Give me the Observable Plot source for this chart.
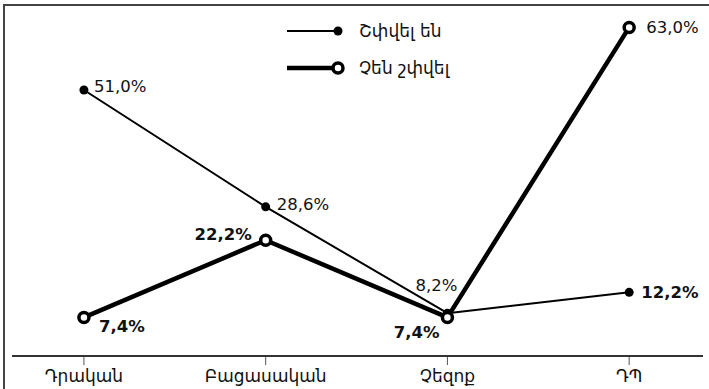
<!DOCTYPE html>
<html>
<head>
<meta charset="utf-8">
<script src="https://cdn.jsdelivr.net/npm/d3@7"></script>
<script src="https://cdn.jsdelivr.net/npm/@observablehq/plot@0.6"></script>
<style>
  html, body { margin: 0; padding: 0; background: white; }
  #wrap { position: relative; width: 709px; height: 389px; }
  #legend { position: absolute; left: 0; top: 0; pointer-events: none; }
</style>
</head>
<body>
<div id="wrap"></div>
<script>
// ---- data ----
const categories = ["Դրական", "Բացասական", "Չեզոք", "ԴՊ"];
const seriesNames = ["Շփվել են", "Չեն շփվել"];
const contacted = [51.0, 28.6, 8.2, 12.2];      // Շփվել են
const notContacted = [7.4, 22.2, 7.4, 63.0];    // Չեն շփվել
const contactedBold = [false, false, false, true];
const notContactedBold = [true, true, true, false];

// ---- label placement (styling) ----
const contactedPlace = [
  {anchor: "start", dx: 10, dy: -3},
  {anchor: "start", dx: 11, dy: -2},
  {anchor: "middle", dx: -11, dy: -28},
  {anchor: "start", dx: 12, dy: 0}
];
const notContactedPlace = [
  {anchor: "start", dx: 15, dy: 9},
  {anchor: "end", dx: -14, dy: -5},
  {anchor: "end", dx: -8, dy: 15},
  {anchor: "start", dx: 17, dy: 0}
];

const fmt = v => v.toFixed(1).replace(".", ",") + "%";
const rowsA = contacted.map((v, i) => ({i, v, s: seriesNames[0]}));
const rowsB = notContacted.map((v, i) => ({i, v, s: seriesNames[1]}));

const labelMarks = [];
rowsA.forEach((r, k) => {
  const p = contactedPlace[k];
  labelMarks.push(Plot.text([r], {x: "i", y: "v", text: d => fmt(d.v), textAnchor: p.anchor,
    dx: p.dx, dy: p.dy, fontSize: 16.5, fontWeight: contactedBold[k] ? "bold" : "normal", fill: "#111"}));
});
rowsB.forEach((r, k) => {
  const p = notContactedPlace[k];
  labelMarks.push(Plot.text([r], {x: "i", y: "v", text: d => fmt(d.v), textAnchor: p.anchor,
    dx: p.dx, dy: p.dy, fontSize: 16.5, fontWeight: notContactedBold[k] ? "bold" : "normal", fill: "#111"}));
});

const chart = Plot.plot({
  width: 709,
  height: 389,
  marginTop: 5,
  marginLeft: 4,
  marginRight: 0,
  marginBottom: 34,
  style: {
    fontFamily: "'DejaVu Sans', sans-serif",
    background: "linear-gradient(#444,#444) 3px 4px / 2px 385px no-repeat, linear-gradient(#444,#444) 3px 4px / 706px 2px no-repeat, white",
    overflow: "visible"
  },
  x: {type: "linear", domain: [-0.393, 3.409], range: [12, 703], axis: null},
  y: {domain: [0, 67.2], range: [355.5, 5], axis: null},
  marks: [
    Plot.axisX(d3.range(categories.length), {
      tickSize: 10, tickPadding: 4, tickFormat: i => categories[i], label: null,
      fontSize: 17, stroke: "#555", fill: "#111"
    }),
    Plot.ruleY([0], {insetLeft: 8, insetRight: 6, stroke: "#333", strokeWidth: 2}),
    Plot.line(rowsB, {x: "i", y: "v", stroke: "black", strokeWidth: 4.5}),
    Plot.line(rowsA, {x: "i", y: "v", stroke: "black", strokeWidth: 2}),
    Plot.dot(rowsA, {x: "i", y: "v", r: 4.5, fill: "black"}),
    Plot.dot(rowsB, {x: "i", y: "v", r: 5, fill: "white", stroke: "black", strokeWidth: 3.5}),
    ...labelMarks
  ]
});

const wrap = document.getElementById("wrap");
wrap.appendChild(chart);

// ---- legend overlay ----
const ns = "http://www.w3.org/2000/svg";
const lg = document.createElementNS(ns, "svg");
lg.setAttribute("id", "legend");
lg.setAttribute("width", 709);
lg.setAttribute("height", 100);
lg.innerHTML = `
  <g font-family="'DejaVu Sans', sans-serif" font-size="17" fill="#111">
    <line x1="287" y1="31" x2="336" y2="31" stroke="black" stroke-width="2"/>
    <circle cx="338" cy="31" r="4.5" fill="black"/>
    <text x="359" y="31" dy="0.35em">${seriesNames[0]}</text>
    <line x1="287" y1="68" x2="334" y2="68" stroke="black" stroke-width="4.5"/>
    <circle cx="338" cy="68" r="5" fill="white" stroke="black" stroke-width="3.5"/>
    <text x="359" y="68" dy="0.35em">${seriesNames[1]}</text>
  </g>`;
wrap.appendChild(lg);
</script>
</body>
</html>
